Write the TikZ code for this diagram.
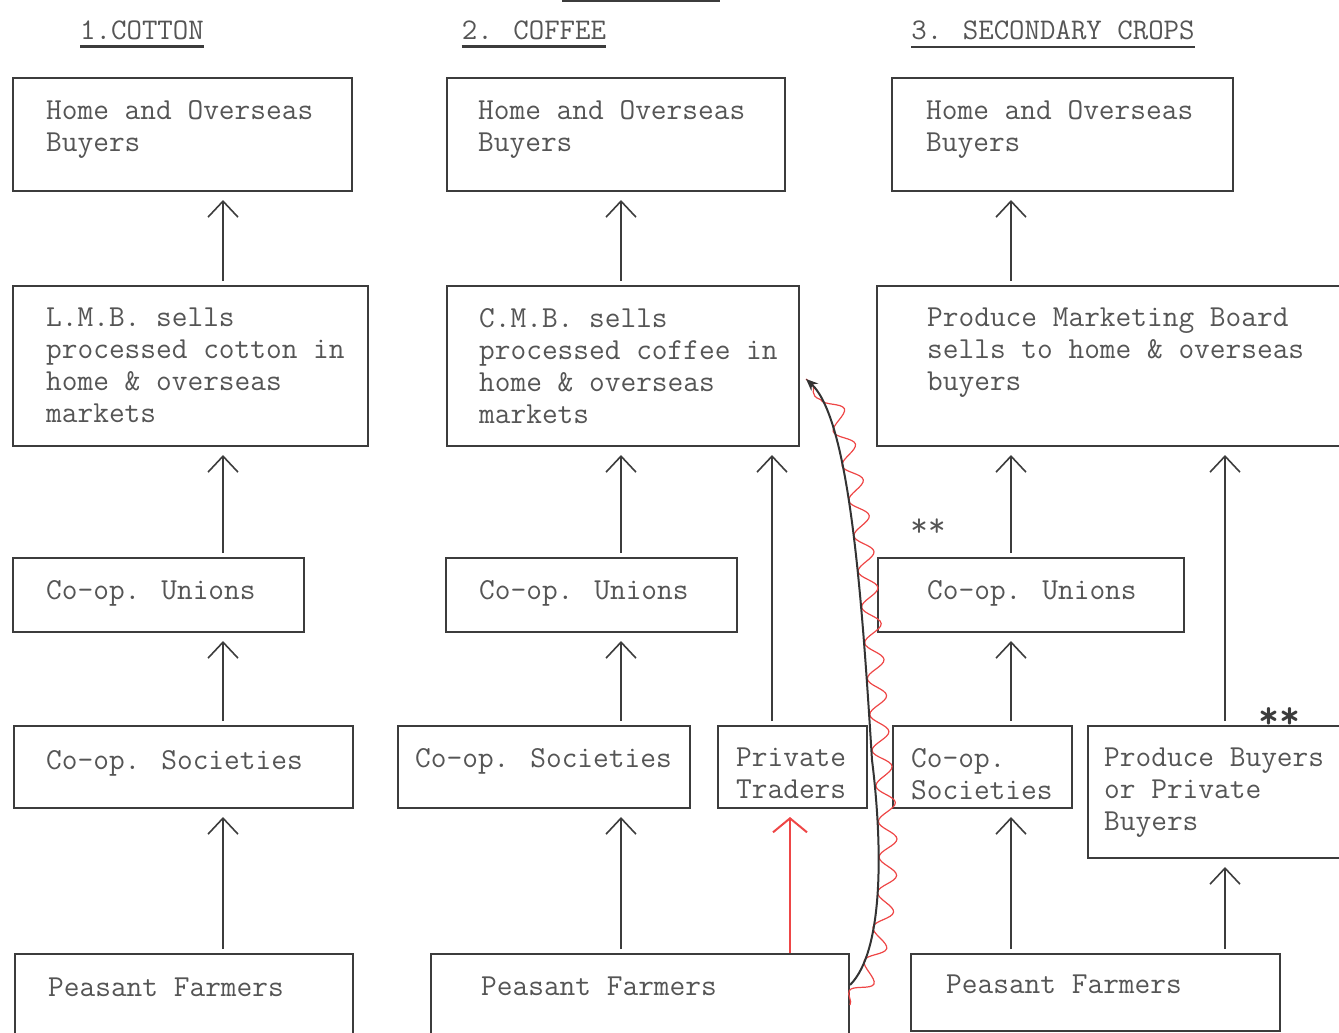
\documentclass[tikz,border=0pt]{standalone}
\usepackage{tikz}
\usetikzlibrary{arrows.meta,calc,decorations.pathmorphing,positioning}
\definecolor{inkGray}{RGB}{60,60,60}
\definecolor{typeGray}{RGB}{85,85,85}
\definecolor{penRed}{RGB}{238,70,70}

\tikzset{
  box/.style={draw=inkGray, line width=2pt, anchor=north west, inner sep=0pt},
  txt/.style={inner sep=0pt, align=left, text=typeGray, font=\ttfamily\fontsize{30.5}{32}\selectfont},
  head/.style={inner sep=0pt, text=typeGray, font=\ttfamily\fontsize{30}{32}\selectfont},
  rule/.style={draw=inkGray, line width=2.5pt},
  up/.style={draw=inkGray, line width=1.6pt, -{Straight Barb[length=16pt,width=30pt,line width=1.6pt]}, shorten >=8pt, shorten <=4pt},
}

\begin{document}
\begin{tikzpicture}[x=1pt, y=-1pt]
    \useasboundingbox (0,0) rectangle (1339,1033);

    % headings
    \node[head] (h1) at (142,30) {1.COTTON};
    \node[head] (h2) at (534,30) {2. COFFEE};
    \node[head] (h3) at (1053,30) {3. SECONDARY CROPS};
    \foreach \h in {h1,h2,h3}
        \draw[rule] ([yshift=-7pt]\h.south west) -- ([yshift=-7pt]\h.south east);
    \draw[rule] (562,1) -- (720,1);

    % cotton
    \node[box, minimum width=339pt, minimum height=113pt] (cotbuy) at (12,77) {};
    \node[box, minimum width=355pt, minimum height=160pt] (cotlmb) at (12,285) {};
    \node[box, minimum width=291pt, minimum height=74pt] (cotuni) at (12,557) {};
    \node[box, minimum width=339pt, minimum height=82pt] (cotsoc) at (13,725) {};
    \node[box, minimum width=338pt, minimum height=100pt] (cotfarm) at (14,953) {};
    \node[txt, below right=23pt and 34pt of cotbuy.north west] (cotbuyt) {Home and Overseas\\Buyers};
    \node[txt, below right=23pt and 34pt of cotlmb.north west] (cotlmbt) {L.M.B. sells\\processed cotton in\\home \& overseas\\markets};
    \node[txt, below right=23pt and 34pt of cotuni.north west] (cotunit) {Co-op. Unions};
    \node[txt, below right=25pt and 33pt of cotsoc.north west] (cotsoct) {Co-op. Societies};
    \node[txt, below right=25pt and 34pt of cotfarm.north west] (cotfarmt) {Peasant Farmers};

    % coffee
    \node[box, minimum width=338pt, minimum height=113pt] (cofbuy) at (446,77) {};
    \node[box, minimum width=352pt, minimum height=160pt] (cofcmb) at (446,285) {};
    \node[box, minimum width=291pt, minimum height=74pt] (cofuni) at (445,557) {};
    \node[box, minimum width=292pt, minimum height=82pt] (cofsoc) at (397,725) {};
    \node[box, minimum width=149pt, minimum height=82pt] (coftrad) at (717,725) {};
    \node[box, minimum width=418pt, minimum height=100pt] (coffarm) at (430,953) {};
    \node[txt, below right=23pt and 32pt of cofbuy.north west] (cofbuyt) {Home and Overseas\\Buyers};
    \node[txt, below right=23pt and 33pt of cofcmb.north west] (cofcmbt) {C.M.B. sells\\processed coffee in\\home \& overseas\\markets};
    \node[txt, below right=23pt and 34pt of cofuni.north west] (cofunit) {Co-op. Unions};
    \node[txt, below right=23pt and 18pt of cofsoc.north west] (cofsoct) {Co-op. Societies};
    \node[txt, below right=23pt and 19pt of coftrad.north west] (coftradt) {Private\\Traders};
    \node[txt, below right=24pt and 51pt of coffarm.north west] (coffarmt) {Peasant Farmers};

    % secondary crops
    \node[box, minimum width=341pt, minimum height=113pt] (secbuy) at (891,77) {};
    \node[box, minimum width=480pt, minimum height=160pt] (secpmb) at (876,285) {};
    \node[box, minimum width=306pt, minimum height=74pt] (secuni) at (877,557) {};
    \node[box, minimum width=179pt, minimum height=82pt] (secsoc) at (892,725) {};
    \node[box, minimum width=270pt, minimum height=132pt] (secpb) at (1087,725) {};
    \node[box, minimum width=369pt, minimum height=77pt] (secfarm) at (910,953) {};
    \node[txt, below right=23pt and 35pt of secbuy.north west] (secbuyt) {Home and Overseas\\Buyers};
    \node[txt, below right=23pt and 51pt of secpmb.north west] (secpmbt) {Produce Marketing Board\\sells to home \& overseas\\buyers};
    \node[txt, below right=23pt and 50pt of secuni.north west] (secunit) {Co-op. Unions};
    \node[txt, below right=23pt and 19pt of secsoc.north west] (secsoct) {Co-op.\\Societies};
    \node[txt, below right=23pt and 17pt of secpb.north west] (secpbt) {Produce Buyers\\or Private\\Buyers};
    \node[txt, below right=22pt and 36pt of secfarm.north west] (secfarmt) {Peasant Farmers};

    \node[head, font=\ttfamily\fontsize{34}{34}\selectfont] (stars1) at (928,528) {**};
    \node[head, text=inkGray, font=\ttfamily\bfseries\fontsize{40}{40}\selectfont] (stars2) at (1279,718) {**};

    % arrow columns
    \coordinate (xa) at (223,0);
    \coordinate (xb) at (621,0);
    \coordinate (xc) at (772,0);
    \coordinate (xd) at (1011,0);
    \coordinate (xe) at (1225,0);
    \coordinate (xr) at (790,0);

    \foreach \lo/\hi in {cotlmb/cotbuy, cotuni/cotlmb, cotsoc/cotuni, cotfarm/cotsoc}
        \draw[up] (xa |- \lo.north) -- (xa |- \hi.south);
    \foreach \lo/\hi in {cofcmb/cofbuy, cofuni/cofcmb, cofsoc/cofuni, coffarm/cofsoc}
        \draw[up] (xb |- \lo.north) -- (xb |- \hi.south);
    \draw[up] (xc |- coftrad.north) -- (xc |- cofcmb.south);
    \foreach \lo/\hi in {secpmb/secbuy, secuni/secpmb, secsoc/secuni, secfarm/secsoc}
        \draw[up] (xd |- \lo.north) -- (xd |- \hi.south);
    \draw[up] (xe |- secpb.north) -- (xe |- secpmb.south);
    \draw[up] (xe |- secfarm.north) -- (xe |- secpb.south);

    % pen marks
    \draw[penRed, line width=2.5pt, -{Straight Barb[length=14pt,width=34pt,line width=2pt]}, shorten >=8pt]
        (xr |- coffarm.north) -- (xr |- coftrad.south);
    \coordinate (loopstart) at ([yshift=-32pt]coffarm.north east);
    \coordinate (loopend) at ([shift={(6pt,-13pt)}]cofcmb.east);
    \draw[penRed, line width=1.2pt, decorate, decoration={snake, amplitude=9pt, segment length=36pt}]
        ([yshift=-20pt]loopstart) .. controls (890,950) and (886,840) .. (876,760)
        .. controls (866,600) and (854,420) .. (loopend);
    \draw[black!80, line width=2pt, -{Stealth[length=12pt,width=10pt]}]
        (loopstart) .. controls (885,950) and (882,840) .. (872,760)
        .. controls (862,600) and (850,420) .. (loopend);
\end{tikzpicture}
\end{document}
